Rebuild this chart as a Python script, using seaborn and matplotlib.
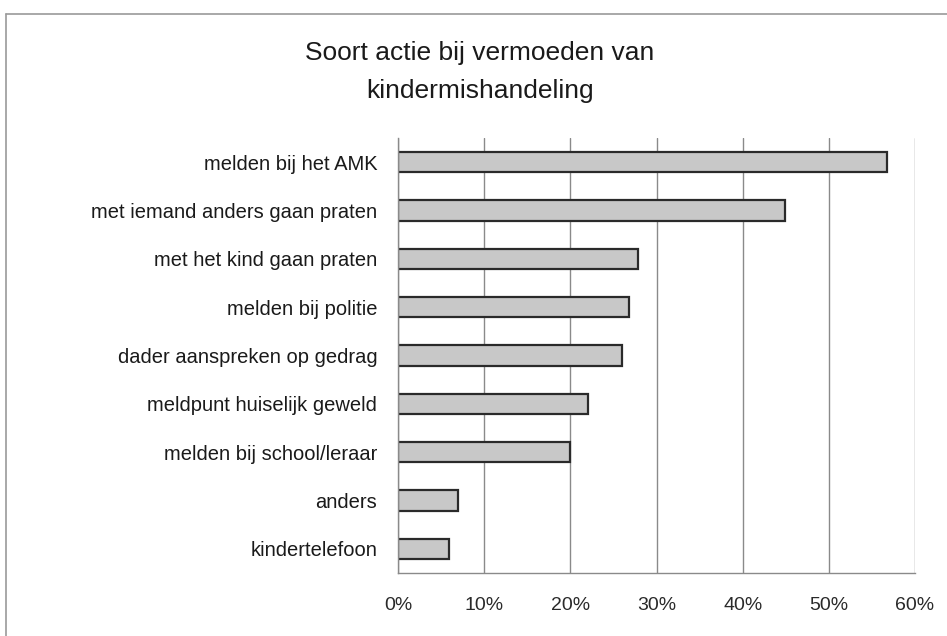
import matplotlib
matplotlib.use("Agg")
import matplotlib.pyplot as plt
import matplotlib.ticker as mticker
from matplotlib.lines import Line2D
import pandas as pd
import seaborn as sns

categories = [
    "melden bij het AMK",
    "met iemand anders gaan praten",
    "met het kind gaan praten",
    "melden bij politie",
    "dader aanspreken op gedrag",
    "meldpunt huiselijk geweld",
    "melden bij school/leraar",
    "anders",
    "kindertelefoon",
]
shares = [0.568, 0.449, 0.279, 0.268, 0.260, 0.220, 0.200, 0.070, 0.059]
xticks = [0, 0.1, 0.2, 0.3, 0.4, 0.5, 0.6]
title = "Soort actie bij vermoeden van\nkindermishandeling"

df = pd.DataFrame({"actie": categories, "aandeel": shares})

sns.set_style("white")
plt.rcParams["font.family"] = ["Liberation Sans", "DejaVu Sans"]

fig = plt.figure(figsize=(9.47, 6.36), dpi=100)
ax = fig.add_axes([398 / 947, 1 - 573 / 636, 517 / 947, 435 / 636])

sns.barplot(data=df, y="actie", x="aandeel", orient="h", ax=ax,
            color="#c8c8c8", edgecolor="#2a2a2a", linewidth=1.6,
            width=0.42, saturation=1)

ax.set_xlim(0, 0.6)
ax.set_ylim(8.5, -0.5)
ax.set_xticks(xticks)
ax.xaxis.set_major_formatter(mticker.PercentFormatter(1.0, decimals=0))
ax.set_xlabel("")
ax.set_ylabel("")
ax.grid(axis="x", color="#8a8a8a", linewidth=1.0)
ax.set_axisbelow(True)

for s in ["top", "right"]:
    ax.spines[s].set_visible(False)
for s in ["left", "bottom"]:
    ax.spines[s].set_color("#8a8a8a")
    ax.spines[s].set_linewidth(1.0)

# y ticks: labels at centre, small marks between categories
ax.tick_params(axis="y", length=0, pad=15, labelsize=14.5, labelcolor="#1a1a1a")
ax.set_yticks([i + 0.5 for i in range(-1, 9)], minor=True)
ax.tick_params(axis="y", which="minor", length=5, color="#8a8a8a", direction="out")
ax.tick_params(axis="x", length=5, color="#8a8a8a", pad=12, labelsize=14,
               labelcolor="#2a2a2a", direction="out")

fig.text(480 / 947, 1 - 72 / 636, title, ha="center", va="center",
         fontsize=19, color="#1a1a1a", linespacing=1.75)

# figure frame
fc = "#9a9a9a"
fig.add_artist(Line2D([6 / 947, 1], [1 - 14 / 636, 1 - 14 / 636],
                      transform=fig.transFigure, color=fc, linewidth=1.2))
fig.add_artist(Line2D([6 / 947, 6 / 947], [0, 1 - 14 / 636],
                      transform=fig.transFigure, color=fc, linewidth=1.2))

fig.savefig("out.png", dpi=100, facecolor="white")
plt.close(fig)
